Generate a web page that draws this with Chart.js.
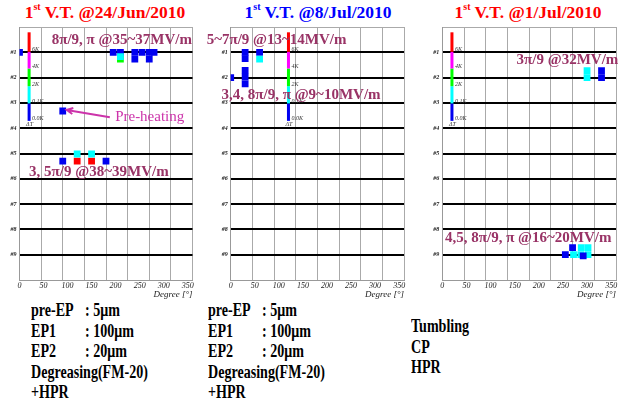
<!DOCTYPE html>
<html>
<head>
<meta charset="utf-8">
<script src="https://cdn.jsdelivr.net/npm/chart.js@4.4.1/dist/chart.umd.min.js"></script>
<style>
  html, body { margin: 0; padding: 0; background: #fff; }
  body { width: 625px; height: 401px; position: relative; overflow: hidden;
         font-family: "Liberation Serif", "Times New Roman", serif; }
  canvas { position: absolute; top: 0; }
  .title { position: absolute; top: 2px; font-weight: bold; font-size: 17.5px;
           text-align: center; white-space: nowrap; }
  .title sup { font-size: 10px; vertical-align: top; position: relative; top: -1px; }
  .notes { position: absolute; font-weight: bold; font-size: 18.5px; line-height: 20.5px;
           transform: scaleX(0.76); transform-origin: 0 0; white-space: nowrap; color: #000; }
  .notes .lab { display: inline-block; }
</style>
</head>
<body>
<div class="title" style="left:15px;width:180px;color:#ff0000">1<sup>st</sup> V.T. @24/Jun/2010</div>
<div class="title" style="left:228px;width:180px;color:#0000ff">1<sup>st</sup> V.T. @8/Jul/2010</div>
<div class="title" style="left:438px;width:180px;color:#ff0000">1<sup>st</sup> V.T. @1/Jul/2010</div>

<canvas id="c1" width="200" height="300" style="left:0px"></canvas>
<canvas id="c2" width="210" height="300" style="left:200px"></canvas>
<canvas id="c3" width="210" height="300" style="left:415px"></canvas>

<div class="notes" id="n1" style="left:31px;top:300px"></div>
<div class="notes" id="n2" style="left:208px;top:300px"></div>
<div class="notes" id="n3" style="left:411px;top:316px"></div>

<script>
// Temperature-rise levels: 0 = <0.1K, 1 = 0.1-2K, 2 = 2-4K, 3 = 4-6K, 4 = >6K
const levelColors = ['#0000f0', '#00ffff', '#00ff00', '#ff00ff', '#ff0000'];
// Colour-scale bar: boundaries (in cell-row units) from bottom to top, and their labels
const scaleStops = [3.71, 3.02, 2.34, 1.64, 0.98, 0.21];
const scaleTexts = ['0.0K', '0.1K', '2K', '4K', '6K'];

// Cell rows and angle axis ticks
const cellNames = ['#1', '#2', '#3', '#4', '#5', '#6', '#7', '#8', '#9'];
const degreeLabels = [0, 50, 100, 150, 200, 250, 300, 350];

// Test of 24 Jun 2010: heated sensors (angle in degrees, row position, level)
const jun24Angle = [0, 195, 210, 240, 255, 270, 280, 240, 270, 90, 90, 180, 210, 210, 120, 150, 120, 150];
const jun24Row   = [1.0, 1.0, 1.0, 1.0, 1.0, 1.0, 1.0, 1.27, 1.27, 3.32, 5.3, 5.3, 1.27, 1.17, 5.3, 5.3, 5.02, 5.02];
const jun24Level = [0, 0, 0, 0, 0, 0, 0, 0, 0, 0, 0, 0, 2, 1, 4, 4, 1, 1];

// Test of 8 Jul 2010
const jul8Angle = [0, 30, 30, 30, 30, 30, 60, 60];
const jul8Row   = [2.0, 1.0, 1.25, 1.72, 1.98, 2.25, 1.0, 1.27];
const jul8Level = [0, 0, 0, 0, 0, 0, 0, 1];

// Test of 1 Jul 2010
const jul1Angle = [300, 300, 330, 330, 288, 302, 272, 287, 302, 255, 270, 292];
const jul1Row   = [1.73, 2.0, 1.73, 2.0, 8.72, 8.72, 9.0, 9.0, 9.0, 9.0, 8.72, 9.05];
const jul1Level = [1, 1, 0, 0, 1, 1, 1, 1, 1, 0, 0, 0];

// Mode / gradient annotations: text, angle, row
const jun24Notes = [
  { text: '8π/9, π @35~37MV/m', x: 67, y: 0.51, color: '#993366', bold: true },
  { text: 'Pre-heating', x: 199, y: 3.56, color: '#cc33aa', bold: false },
  { text: '3, 5π/9 @38~39MV/m', x: 20, y: 5.72, color: '#993366', bold: true }
];
const jul8Notes = [
  { text: '5~7π/9 @13~14MV/m', x: -50, y: 0.51, color: '#993366', bold: true },
  { text: '3,4, 8π/9, π @9~10MV/m', x: -19, y: 2.69, color: '#993366', bold: true }
];
const jul1Notes = [
  { text: '3π/9 @32MV/m', x: 154, y: 1.3, color: '#993366', bold: true },
  { text: '4,5, 8π/9, π @16~20MV/m', x: 5.6, y: 8.33, color: '#993366', bold: true }
];
// Arrow pointing at the pre-heating spot: [angle, row] tail and tip
const preheatArrow = [[188, 3.57], [98, 3.28]];

// Surface treatment text under each map
const jun24Process = [['pre-EP', ': 5μm'], ['EP1', ': 100μm'], ['EP2', ': 20μm'], ['Degreasing(FM-20)'], ['+HPR']];
const jul8Process  = [['pre-EP', ': 5μm'], ['EP1', ': 100μm'], ['EP2', ': 20μm'], ['Degreasing(FM-20)'], ['+HPR']];
const jul1Process  = [['Tumbling'], ['CP'], ['HPR']];

const FONT = '"Liberation Serif", "Times New Roman", serif';

function fillNotes(id, lines) {
  const el = document.getElementById(id);
  lines.forEach(l => {
    const d = document.createElement('div');
    const a = document.createElement('span');
    a.className = 'lab';
    a.textContent = l[0];
    if (l.length > 1) a.style.width = '71px';
    d.appendChild(a);
    if (l.length > 1) d.appendChild(document.createTextNode(l[1]));
    el.appendChild(d);
  });
}
fillNotes('n1', jun24Process);
fillNotes('n2', jul8Process);
fillNotes('n3', jul1Process);

const decor = {
  id: 'decor',
  beforeDatasetsDraw(chart, args, opts) {
    const { ctx, scales: { x, y } } = chart;
    const bx = x.getPixelForValue(opts.barAngle);
    ctx.save();
    for (let i = 0; i < levelColors.length; i++) {
      const y0 = y.getPixelForValue(scaleStops[i]);
      const y1 = y.getPixelForValue(scaleStops[i + 1]);
      ctx.fillStyle = levelColors[i];
      ctx.fillRect(bx - 1.5, y1, 3, y0 - y1);
    }
    ctx.font = 'italic 6px ' + FONT;
    ctx.fillStyle = '#333';
    ctx.textAlign = 'left';
    ctx.textBaseline = 'alphabetic';
    scaleTexts.forEach((t, i) => ctx.fillText(t, bx + 3, y.getPixelForValue(scaleStops[i]) - 0.5));
    ctx.fillText('ΔT', bx - 3, y.getPixelForValue(scaleStops[0]) + 5.5);
    ctx.restore();
  },
  afterDatasetsDraw(chart, args, opts) {
    const { ctx, scales: { x, y } } = chart;
    ctx.save();
    ctx.textAlign = 'left';
    ctx.textBaseline = 'middle';
    (opts.notes || []).forEach(n => {
      ctx.font = (n.bold ? 'bold ' : '') + '15px ' + FONT;
      ctx.fillStyle = n.color;
      ctx.fillText(n.text, x.getPixelForValue(n.x), y.getPixelForValue(n.y));
    });
    if (opts.arrow) {
      const [t, h] = opts.arrow;
      const x0 = x.getPixelForValue(t[0]), y0 = y.getPixelForValue(t[1]);
      const x1 = x.getPixelForValue(h[0]), y1 = y.getPixelForValue(h[1]);
      const ang = Math.atan2(y1 - y0, x1 - x0);
      ctx.strokeStyle = '#cc33aa';
      ctx.lineWidth = 2;
      ctx.beginPath();
      ctx.moveTo(x0, y0);
      ctx.lineTo(x1, y1);
      ctx.moveTo(x1 - 7 * Math.cos(ang - 0.45), y1 - 7 * Math.sin(ang - 0.45));
      ctx.lineTo(x1, y1);
      ctx.lineTo(x1 - 7 * Math.cos(ang + 0.45), y1 - 7 * Math.sin(ang + 0.45));
      ctx.stroke();
    }
    ctx.restore();
  }
};

function makeChart(id, angles, rows, levels, yWidth, padRight, barAngle, notes, arrow) {
  return new Chart(document.getElementById(id), {
    type: 'scatter',
    data: {
      datasets: [{
        data: angles.map((a, i) => ({ x: a, y: rows[i] })),
        backgroundColor: levels.map(l => levelColors[l]),
        pointStyle: 'rect',
        pointRadius: 4.8,
        pointHoverRadius: 4.8,
        borderWidth: 0,
        clip: 0
      }]
    },
    options: {
      responsive: false,
      animation: false,
      events: [],
      layout: { padding: { left: 0, right: padRight, top: 27, bottom: 0 } },
      plugins: {
        legend: { display: false },
        tooltip: { enabled: false },
        decor: { barAngle: barAngle, notes: notes, arrow: arrow }
      },
      scales: {
        x: {
          type: 'linear', min: 0, max: 360,
          ticks: {
            stepSize: 5, autoSkip: false, maxRotation: 0, padding: 1,
            color: '#222',
            font: { family: FONT, style: 'italic', size: 8 },
            callback: v => {
              const r = Math.round(v);
              return degreeLabels.includes(r) ? String(r) : '';
            }
          },
          grid: {
            drawTicks: false,
            lineWidth: 1,
            color: c => (c.tick && Math.round(c.tick.value) % 45 === 0) ? '#aaaaaa' : 'rgba(0,0,0,0)'
          },
          border: { color: '#999999', width: 1 },
          title: {
            display: true, text: 'Degree [°]', align: 'end', color: '#222',
            font: { family: FONT, style: 'italic', size: 9 },
            padding: { top: 0, bottom: 0 }
          },
          afterFit: s => { s.height = 20; }
        },
        y: {
          type: 'linear', min: 0, max: 10, reverse: true,
          ticks: {
            stepSize: 1, autoSkip: false, padding: 3, color: '#222',
            font: { family: FONT, style: 'italic', weight: 'bold', size: 6 },
            callback: v => (v >= 1 && v <= 9) ? cellNames[v - 1] : ''
          },
          grid: {
            drawTicks: false,
            color: c => {
              const v = c.tick ? c.tick.value : -1;
              if (v >= 1 && v <= 9) return '#000000';
              return v === 0 ? '#aaaaaa' : 'rgba(0,0,0,0)';
            },
            lineWidth: c => {
              const v = c.tick ? c.tick.value : -1;
              return (v >= 1 && v <= 9) ? 2 : 1;
            }
          },
          border: { color: '#999999', width: 1 },
          afterFit: s => { s.width = yWidth; }
        }
      }
    },
    plugins: [decor]
  });
}

makeChart('c1', jun24Angle, jun24Row, jun24Level, 19.5, 7.5, 20, jun24Notes, preheatArrow);
makeChart('c2', jul8Angle, jul8Row, jul8Level, 30.7, 6, 120, jul8Notes, null);
makeChart('c3', jul1Angle, jul1Row, jul1Level, 27.3, 9, 20, jul1Notes, null);
</script>
</body>
</html>
